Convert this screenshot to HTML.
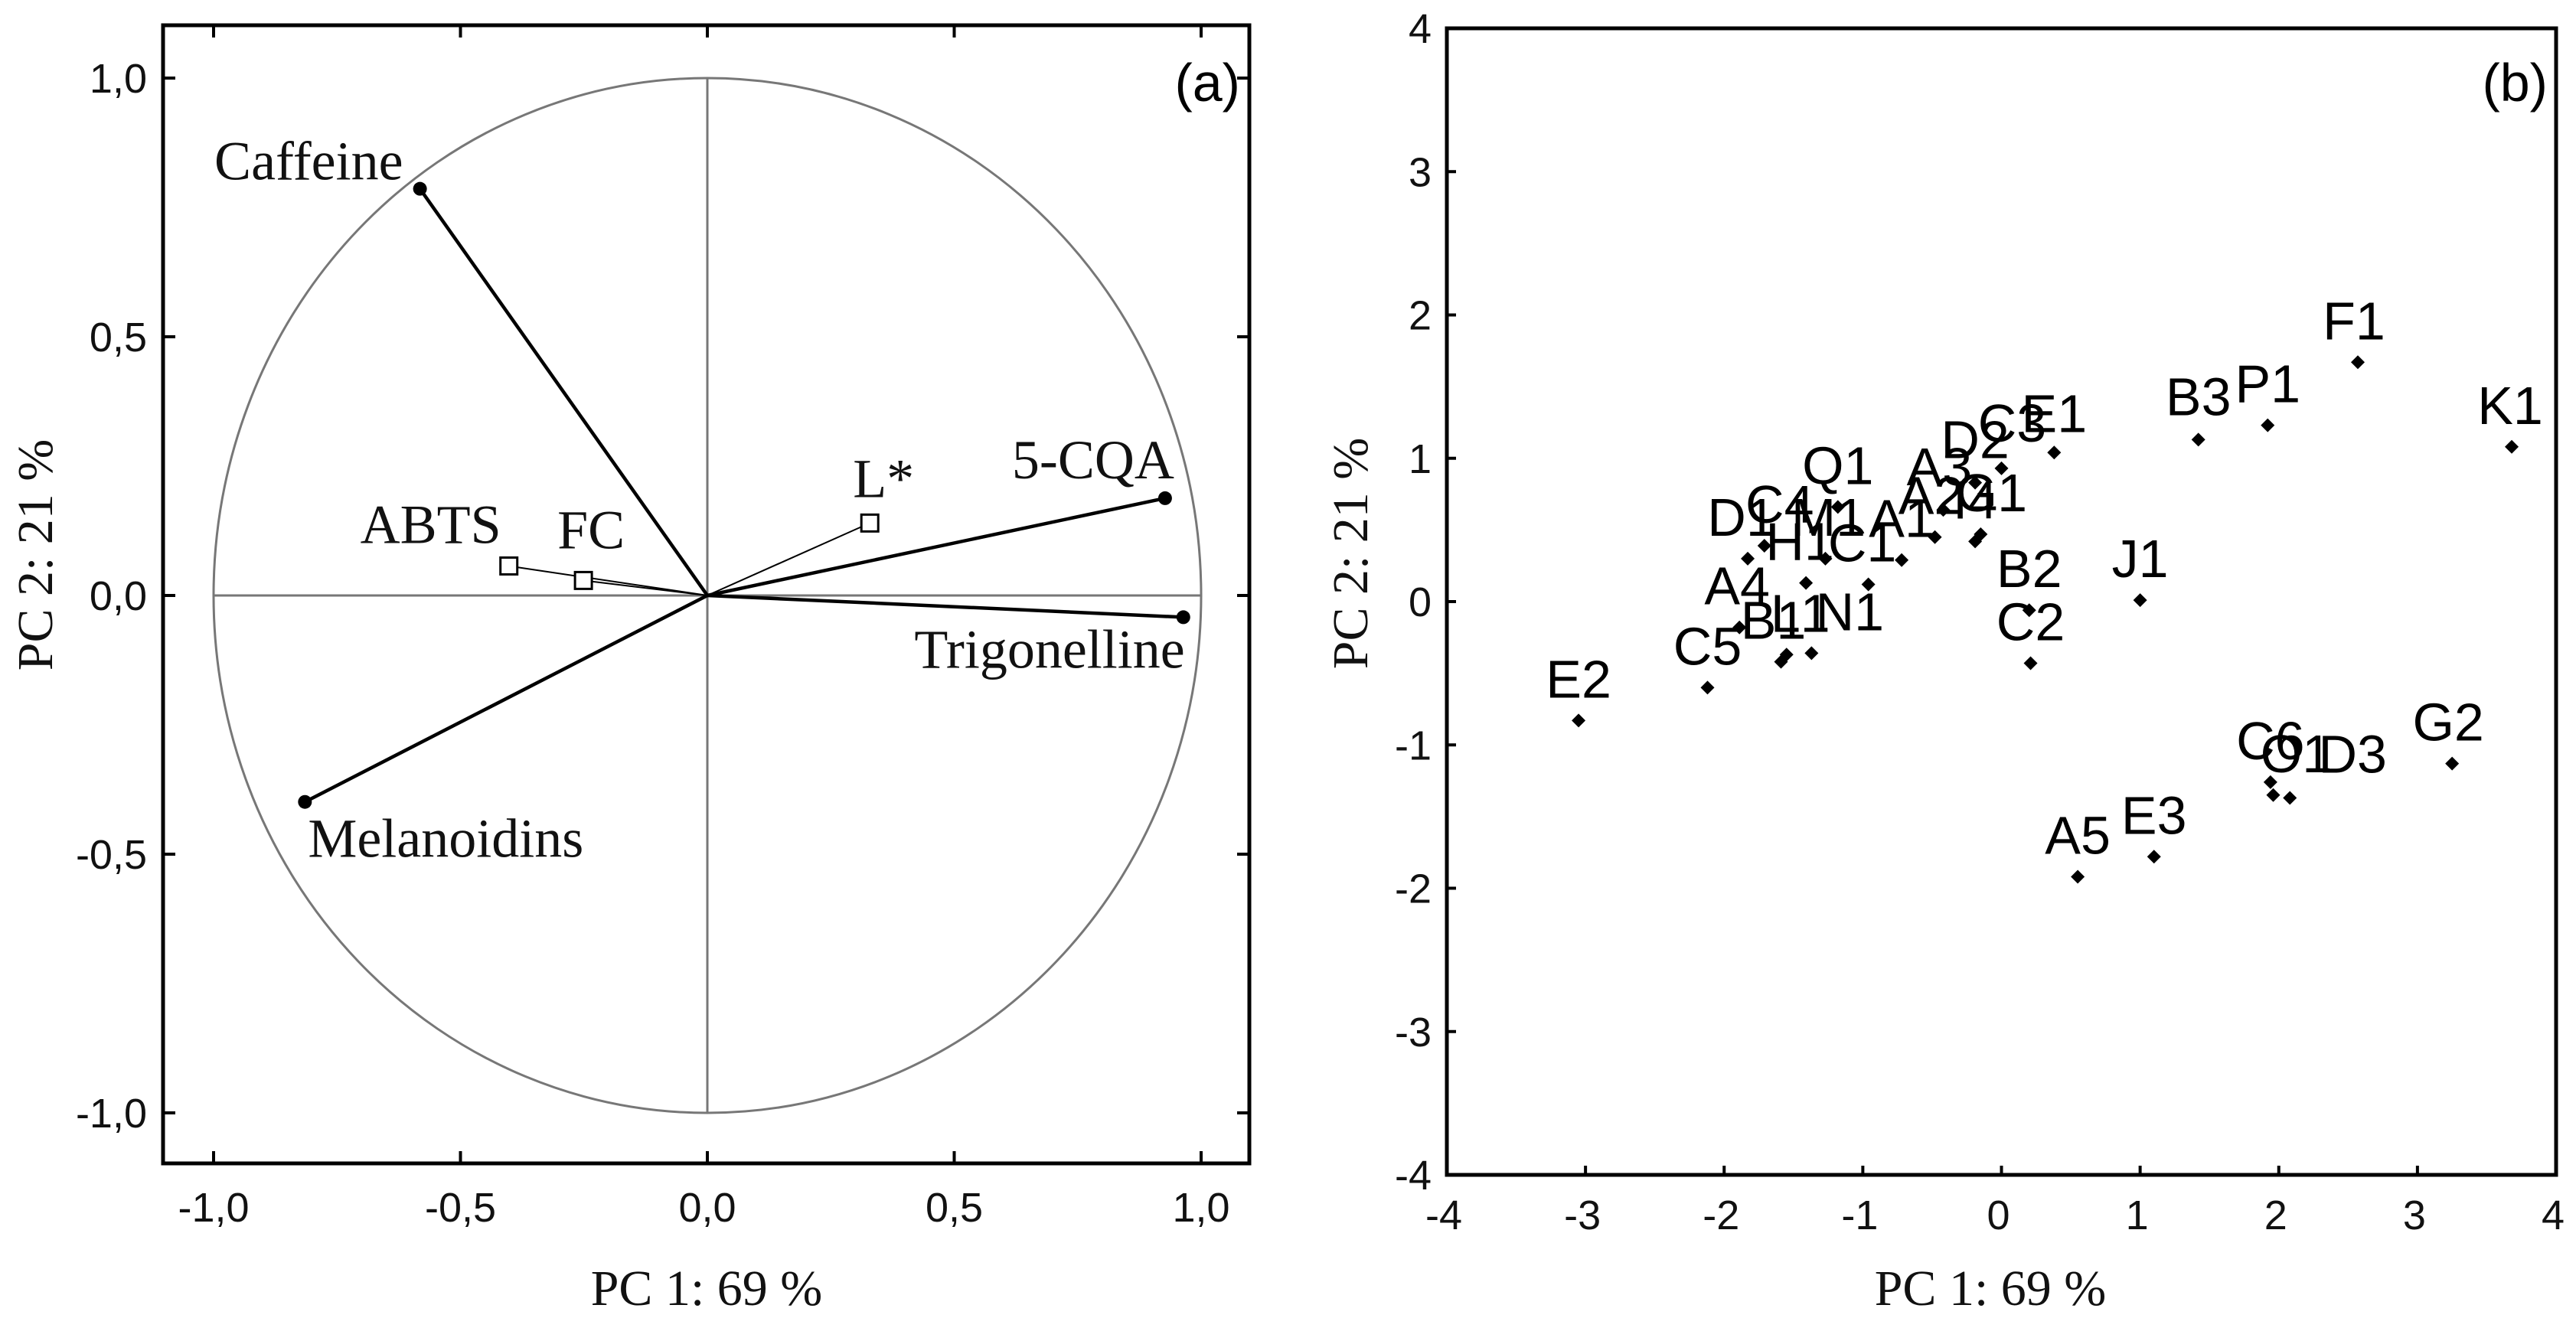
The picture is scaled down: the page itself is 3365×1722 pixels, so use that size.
<!DOCTYPE html>
<html><head><meta charset="utf-8"><style>
html,body{margin:0;padding:0;background:#fff;}
svg{display:block;}
.tick{font-family:"Liberation Sans",Arial,sans-serif;font-size:54px;fill:#111;}
.ser{font-family:"Liberation Serif","Times New Roman",serif;fill:#111;}
.pl{font-family:"Liberation Sans",Arial,sans-serif;font-size:70px;fill:#000;}
</style></head><body>
<svg id="fig" width="3365" height="1722" viewBox="0 0 3365 1722" xmlns="http://www.w3.org/2000/svg">
<g id="pa"></g>
<g id="pb"></g>
</svg>
<script>
// ---- Panel (a) loadings data ----
const varNames = ["Caffeine","5-CQA","Trigonelline","Melanoidins","ABTS","FC","L*"];
const varPC1 = [-0.582, 0.927, 0.964, -0.815, -0.402, -0.251, 0.329];
const varPC2 = [0.786, 0.188, -0.042, -0.399, 0.057, 0.029, 0.140];
const varActive = [true,true,true,true,false,false,false];
const aTicks = [-1.0,-0.5,0.0,0.5,1.0];
const aTickLabels = ["-1,0","-0,5","0,0","0,5","1,0"];

// ---- Panel (b) scores data ----
const sampleNames = ["E2","C5","A4","B1","L1","N1","D1","C4","Q1","H1","M1","C1","A1","A2","A3","I4","G1","D2","C3","E1","B2","C2","J1","B3","P1","F1","K1","G2","C6","O1","D3","E3","A5"];
const scorePC1 = [-3.05,-2.12,-1.89,-1.59,-1.55,-1.37,-1.83,-1.71,-1.18,-1.41,-1.27,-0.96,-0.72,-0.48,-0.42,-0.19,-0.15,-0.19,0.0,0.38,0.20,0.21,1.00,1.42,1.92,2.57,3.68,3.25,1.94,1.96,2.08,1.10,0.55];
const scorePC2 = [-0.83,-0.60,-0.18,-0.42,-0.37,-0.36,0.30,0.39,0.66,0.13,0.30,0.12,0.29,0.45,0.64,0.42,0.47,0.83,0.93,1.04,-0.06,-0.43,0.01,1.13,1.23,1.67,1.08,-1.13,-1.26,-1.35,-1.37,-1.78,-1.92];
const bTicks = [-4,-3,-2,-1,0,1,2,3,4];
const bTickLabels = ["-4","-3","-2","-1","0","1","2","3","4"];

const NS="http://www.w3.org/2000/svg";
function mk(parent,tag,attrs,text){const e=document.createElementNS(NS,tag);for(const k in attrs)e.setAttribute(k,attrs[k]);if(text!==undefined)e.textContent=text;parent.appendChild(e);return e;}

// ===== Panel A =====
const pa=document.getElementById('pa');
const A={l:213,r:1632,t:33,b:1520};
const ax=v=>924+v*645;
const ay=v=>778-v*676;
let e;
e=mk(pa,'ellipse',{cx:ax(0),cy:ay(0),rx:ax(1)-ax(0),ry:ay(0)-ay(1),fill:'none',stroke:'#777','stroke-width':3});


e=mk(pa,'line',{x1:ax(-1),y1:ay(0),x2:ax(1),y2:ay(0),stroke:'#777','stroke-width':3});


e=mk(pa,'line',{x1:ax(0),y1:ay(1),x2:ax(0),y2:ay(-1),stroke:'#777','stroke-width':3});


e=mk(pa,'rect',{x:A.l,y:A.t,width:A.r-A.l,height:A.b-A.t,fill:'none',stroke:'#000','stroke-width':5});


aTicks.forEach((v,i)=>{
  const x=ax(v),y=ay(v);
  mk(pa,'line',{x1:x,y1:A.b,x2:x,y2:A.b-16,stroke:'#000','stroke-width':4});
  mk(pa,'line',{x1:x,y1:A.t,x2:x,y2:A.t+16,stroke:'#000','stroke-width':4});
  mk(pa,'line',{x1:A.l,y1:y,x2:A.l+16,y2:y,stroke:'#000','stroke-width':4});
  mk(pa,'line',{x1:A.r,y1:y,x2:A.r-16,y2:y,stroke:'#000','stroke-width':4});
  let t=mk(pa,'text',{x:x,y:1596,'text-anchor':'middle',class:'tick'},aTickLabels[i]);
  
  
  t=mk(pa,'text',{x:192,y:y+19,'text-anchor':'end',class:'tick'},aTickLabels[i]);
  
  
});
const aLab={"Caffeine":[-22,-12,'end'],"5-CQA":[12,-26,'end'],"Trigonelline":[2,66,'end'],"Melanoidins":[4,72,'start'],"ABTS":[-10,-30,'end'],"FC":[10,-42,'middle'],"L*":[18,-34,'middle']};
varNames.forEach((n,i)=>{
  const x=ax(varPC1[i]),y=ay(varPC2[i]);
  let l=mk(pa,'line',{x1:ax(0),y1:ay(0),x2:x,y2:y,stroke:'#000','stroke-width':varActive[i]?4.5:2});
  
  
  let m;
  if(varActive[i]) m=mk(pa,'circle',{cx:x,cy:y,r:9,fill:'#000'});
  else m=mk(pa,'rect',{x:x-11,y:y-11,width:22,height:22,fill:'#fff',stroke:'#000','stroke-width':3});
  
  
  const o=aLab[n];
  let t=mk(pa,'text',{x:x+o[0],y:y+o[1],'text-anchor':o[2],class:'ser','font-size':72},n);
  
  
});
e=mk(pa,'text',{x:1620,y:132,'text-anchor':'end',class:'pl','font-size':90},'(a)');


e=mk(pa,'text',{x:923,y:1705,'text-anchor':'middle',class:'ser','font-size':66},'PC 1: 69 %');


e=mk(pa,'text',{x:0,y:0,'text-anchor':'middle',class:'ser','font-size':66,transform:'translate(68,725) rotate(-90)'},'PC 2: 21 %');



// ===== Panel B =====
const pb=document.getElementById('pb');
const B={l:1890,r:3339,t:37,b:1535};
const bx=v=>B.l+(v+4)*(B.r-B.l)/8;
const by=v=>B.b-(v+4)*(B.b-B.t)/8;
e=mk(pb,'rect',{x:B.l,y:B.t,width:B.r-B.l,height:B.b-B.t,fill:'none',stroke:'#000','stroke-width':5});


bTicks.forEach((v,i)=>{
  const x=bx(v),y=by(v);
  mk(pb,'line',{x1:x,y1:B.b,x2:x,y2:B.b-12,stroke:'#000','stroke-width':4});
  mk(pb,'line',{x1:B.l,y1:y,x2:B.l+12,y2:y,stroke:'#000','stroke-width':4});
  let t=mk(pb,'text',{x:x-4,y:1606,'text-anchor':'middle',class:'tick'},bTickLabels[i]);
  
  
  t=mk(pb,'text',{x:1870,y:y+19,'text-anchor':'end',class:'tick'},bTickLabels[i]);
  
  
});
const bLabDx={"N1":50,"D3":82,"O1":30,"C4":20,"L1":18,"B1":-10,"D1":-8,"A2":-5,"A3":-5,"I4":0,"G1":14,"C3":14,"H1":-8,"M1":4,"C1":-8,"F1":-5,"K1":-2,"G2":-5,"A4":-3};
const bLabDy={"A3":-32,"D2":-32,"C3":-35,"E1":-27,"F1":-30,"B3":-32,"P1":-30,"K1":-30,"O1":-30,"D3":-33};
sampleNames.forEach((n,i)=>{
  const x=bx(scorePC1[i]),y=by(scorePC2[i]);
  let d=mk(pb,'path',{d:`M${x} ${y-9}L${x+9} ${y}L${x} ${y+9}L${x-9} ${y}Z`,fill:'#000'});
  
  
  const dx=bLabDx[n]||0, dy=bLabDy[n]||-30;
  let t=mk(pb,'text',{x:x+dx,y:y+dy,'text-anchor':'middle',class:'pl'},n);
  
  
});
e=mk(pb,'text',{x:3328,y:132,'text-anchor':'end',class:'pl','font-size':90},'(b)');


e=mk(pb,'text',{x:2600,y:1705,'text-anchor':'middle',class:'ser','font-size':66},'PC 1: 69 %');


e=mk(pb,'text',{x:0,y:0,'text-anchor':'middle',class:'ser','font-size':66,transform:'translate(1786,723) rotate(-90)'},'PC 2: 21 %');


</script>
</body></html>
